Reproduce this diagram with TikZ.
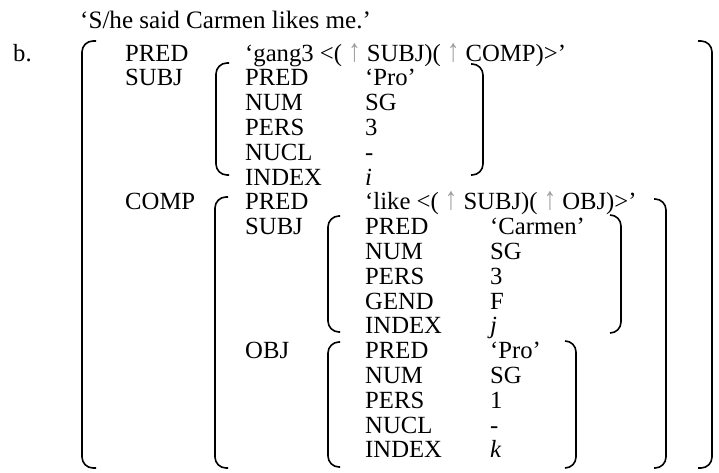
\documentclass[tikz,border=0pt]{standalone}
\usepackage{fontspec}
\setmainfont{Liberation Serif}
\definecolor{arrgray}{gray}{0.62}
\newcommand{\uparr}{\textcolor{arrgray}{\scalebox{1}[1.3]{↑}}}
\tikzset{
  t/.style={anchor=base west, inner sep=0pt, font=\fontsize{24.7}{26}\selectfont},
  brk/.style={line width=1.6pt, rounded corners=11pt},
}
\begin{document}
\begin{tikzpicture}[x=1pt,y=-1pt]
\path[use as bounding box] (0,0) rectangle (719,472);
% title and example letter
\node[t, font=\fontsize{25.1}{26}\selectfont] (title) at (80,28) {‘S/he said Carmen likes me.’};
\node[t] (lab) at (13,61) {b.};
% outer level
\node[t] (a1) at (125,61) {PRED};
\node[t] (v1) at (245,61) {‘gang3 <( \uparr{} SUBJ)( \uparr{} COMP)>’};
\node[t] (a2) at (125,85.8) {SUBJ};
\node[t] (a7) at (125,209.8) {COMP};
% SUBJ f-structure
\node[t] (s1) at (245,85.8) {PRED};  \node[t] (sv1) at (365,85.8) {‘Pro’};
\node[t] (s2) at (245,110.6) {NUM};  \node[t] (sv2) at (365,110.6) {SG};
\node[t] (s3) at (245,135.4) {PERS}; \node[t] (sv3) at (365,135.4) {3};
\node[t] (s4) at (245,160.2) {NUCL}; \node[t] (sv4) at (365,160.2) {-};
\node[t] (s5) at (245,185.0) {INDEX};\node[t] (sv5) at (365,185.0) {\textit{i}};
% COMP f-structure
\node[t] (c1) at (245,209.8) {PRED}; \node[t] (cv1) at (365,209.8) {‘like <( \uparr{} SUBJ)( \uparr{} OBJ)>’};
\node[t] (c2) at (245,234.6) {SUBJ};
\node[t] (c3) at (245,358.6) {OBJ};
% COMP SUBJ
\node[t] (p1) at (365,234.6) {PRED}; \node[t] (pv1) at (490,234.6) {‘Carmen’};
\node[t] (p2) at (365,259.4) {NUM};  \node[t] (pv2) at (490,259.4) {SG};
\node[t] (p3) at (365,284.2) {PERS}; \node[t] (pv3) at (490,284.2) {3};
\node[t] (p4) at (365,309.0) {GEND}; \node[t] (pv4) at (490,309.0) {F};
\node[t] (p5) at (365,333.8) {INDEX};\node[t] (pv5) at (490,333.8) {\textit{j}};
% COMP OBJ
\node[t] (o1) at (365,358.6) {PRED}; \node[t] (ov1) at (490,358.6) {‘Pro’};
\node[t] (o2) at (365,383.4) {NUM};  \node[t] (ov2) at (490,383.4) {SG};
\node[t] (o3) at (365,408.2) {PERS}; \node[t] (ov3) at (490,408.2) {1};
\node[t] (o4) at (365,433.0) {NUCL}; \node[t] (ov4) at (490,433.0) {-};
\node[t] (o5) at (365,457.8) {INDEX};\node[t] (ov5) at (490,457.8) {\textit{k}};
% brackets
\draw[brk] (96,41) -- (82,41) -- (82,468) -- (96,468);
\draw[brk] (698,41) -- (712,41) -- (712,468) -- (698,468);
\draw[brk] (229,63) -- (216,63) -- (216,175) -- (229,175);
\draw[brk] (471,64) -- (483,64) -- (483,175) -- (471,175);
\draw[brk] (228,197) -- (215,197) -- (215,468) -- (228,468);
\draw[brk] (654,199) -- (666,199) -- (666,468) -- (654,468);
\draw[brk] (340,216) -- (328,216) -- (328,332) -- (340,332);
\draw[brk] (610,215) -- (621,215) -- (621,333) -- (610,333);
\draw[brk] (340,342) -- (328,342) -- (328,467) -- (340,467);
\draw[brk] (565,341) -- (576,341) -- (576,468) -- (565,468);
\end{tikzpicture}
\end{document}
